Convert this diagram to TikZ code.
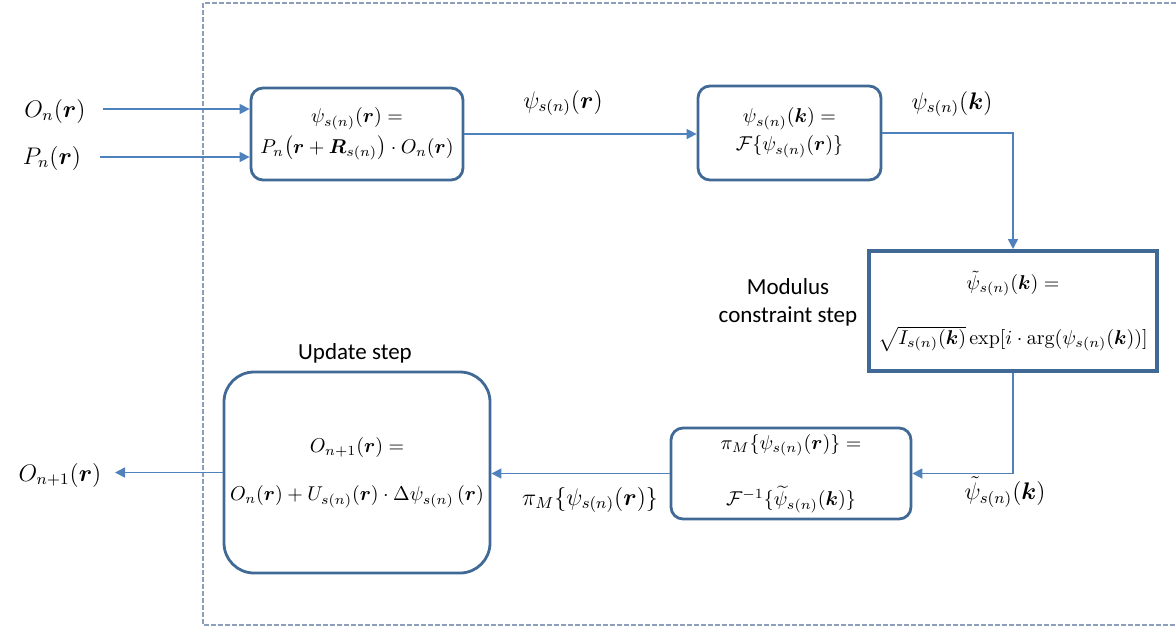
\documentclass[tikz,border=0pt]{standalone}
\usepackage{amsmath,bm}
\usepackage{fontspec}
\newfontfamily\labelfont{Carlito}
\usetikzlibrary{arrows.meta}
\definecolor{boxblue}{RGB}{65,105,150}
\definecolor{linkblue}{RGB}{79,129,189}
\definecolor{frameblue}{RGB}{140,158,185}
\begin{document}
\begin{tikzpicture}[x=0.5pt,y=-0.5pt,
  box/.style={draw=boxblue,line width=1.4pt,rounded corners=6pt,align=center,inner sep=0pt},
  link/.style={draw=linkblue,line width=0.8pt,-{Triangle[length=5pt,width=5pt]}},
  lbl/.style={font=\large},
  steptext/.style={font=\labelfont\fontsize{11.5}{14}\selectfont,align=center}]
\useasboundingbox (0,0) rectangle (1176,628);
% dashed frame, open on the right
\draw [frameblue,line width=0.6pt,dash pattern=on 2.5pt off 1pt] (1176,3) -- (203,3) -- (203,625) -- (1176,625);
% boxes
\node [box,minimum width=106pt,minimum height=46pt] (prod) at (357,134)
  {$\psi_{s(n)}(\bm r) =$\\[2pt] $P_n\bigl(\bm r + \bm R_{s(n)}\bigr)\cdot O_n(\bm r)$};
\node [box,minimum width=91.5pt,minimum height=47pt] (fft) at (789.5,133)
  {$\psi_{s(n)}(\bm k) =$\\[2pt] $\mathcal{F}\{\psi_{s(n)}(\bm r)\}$};
\node [box,rounded corners=0pt,line width=2pt,minimum width=144pt,minimum height=60pt] (modc) at (1013,311)
  {$\tilde\psi_{s(n)}(\bm k) =$\\[14pt] $\sqrt{I_{s(n)}(\bm k)}\exp[i\cdot\arg(\psi_{s(n)}(\bm k))]$};
\node [box,minimum width=120pt,minimum height=45.5pt] (ifft) at (791,473.5)
  {$\pi_M\{\psi_{s(n)}(\bm r)\} =$\\[14pt] $\mathcal{F}^{-1}\{\widetilde{\psi}_{s(n)}(\bm k)\}$};
\node [box,rounded corners=15pt,minimum width=133pt,minimum height=100.5pt] (upd) at (357,472.5)
  {$O_{n+1}(\bm r) =$\\[12pt] $O_n(\bm r) + U_{s(n)}(\bm r)\cdot\Delta\psi_{s(n)}\,(\bm r)$};
% outer labels
\node [lbl] (obj) at (55,111) {$O_n(\bm r)$};
\node [lbl] (probe) at (52,158) {$P_n(\bm r)$};
\node [lbl] (out) at (60,475) {$O_{n+1}(\bm r)$};
\node [lbl] (psir) at (563,103) {$\psi_{s(n)}(\bm r)$};
\node [lbl] (psik) at (952,104) {$\psi_{s(n)}(\bm k)$};
\node [lbl] (psit) at (1005,492) {$\tilde\psi_{s(n)}(\bm k)$};
\node [lbl] (proj) at (590,500) {$\pi_M\{\psi_{s(n)}(\bm r)\}$};
\node [steptext] (modlbl) at (788,302) {Modulus\\constraint step};
\node [steptext] (updlbl) at (355,353) {Update step};
\coordinate (objtail) at (103,109);
\coordinate (probetail) at (100,157);
\coordinate (outtip) at (115,472.5);
% connectors
\draw [link] (objtail) -- (objtail -| prod.west);
\draw [link] (probetail) -- (probetail -| prod.west);
\draw [link] (prod.east) -- (prod.east -| fft.west);
\draw [link] (fft.east) -| (modc.north);
\draw [link] (modc.south) |- (ifft.east);
\draw [link] (ifft.west) -- (ifft.west -| upd.east);
\draw [link] (upd.west) -- (outtip);
\end{tikzpicture}
\end{document}
